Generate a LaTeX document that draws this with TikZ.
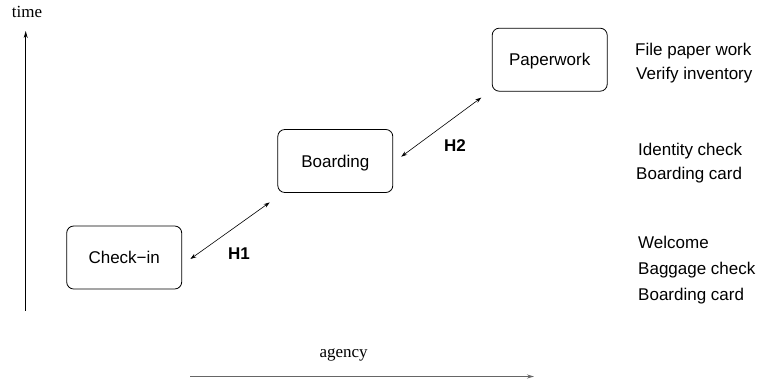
\documentclass[tikz,border=0pt]{standalone}
\usepackage{fontspec}
\setmainfont{Liberation Serif}
\setsansfont{Liberation Sans}
\usetikzlibrary{arrows.meta}
\begin{document}
\begin{tikzpicture}[x=1pt,y=-1pt,
  box/.style={draw,line width=0.8pt,rounded corners=7pt,minimum width=115pt,minimum height=63pt,
    inner sep=0pt,text height=12.2pt,text depth=0pt,font=\sffamily\fontsize{17}{20}\selectfont},
  txt/.style={anchor=base west,inner sep=0pt,font=\sffamily\fontsize{17}{20}\selectfont},
  ser/.style={anchor=base west,inner sep=0pt,font=\rmfamily\fontsize{17}{20}\selectfont},
  lbl/.style={anchor=base west,inner sep=0pt,font=\sffamily\bfseries\fontsize{17}{20}\selectfont},
  harrow/.style={line width=0.6pt,{Stealth[length=6pt,width=4pt]}-{Stealth[length=6pt,width=4pt]}},
  axis/.style={-{Stealth[length=7pt,width=4pt]}}]
\useasboundingbox (0,0) rectangle (759,382);
% axes
\coordinate (t0) at (25.7,310.7);
\coordinate (t1) at (25.7,31);
\draw[axis,line width=0.9pt] (t0) -- (t1);
\node[ser] (time) at (11.7,18) {time};
\coordinate (a0) at (190,376.5);
\coordinate (a1) at (534,376.5);
\draw[axis,line width=1.3pt,draw=black!60,fill=black] (a0) -- (a1);
\node[ser] (agency) at (319.3,357.5) {agency};
% boxes
\node[box] (ci) at (124.2,257.5) {Check\textminus in};
\node[box] (bo) at (335.3,161) {Boarding};
\node[box] (pw) at (549.7,59.7) {Paperwork};
% handovers
\draw[harrow] ([xshift=8.3pt,yshift=-1.5pt]ci.east) -- ([xshift=-7.7pt,yshift=-9.5pt]bo.south west);
\draw[harrow] ([xshift=8pt,yshift=4.3pt]bo.east) -- ([xshift=-10.5pt,yshift=-6pt]pw.south west);
\node[lbl] (h1) at (228,259.3) {H1};
\node[lbl] (h2) at (444,151) {H2};
% tasks
\node[txt] (t1a) at (635,55.5) {File paper work};
\node[txt] (t1b) at (636,80) {Verify inventory};
\node[txt] (t2a) at (638,155.7) {Identity check};
\node[txt] (t2b) at (636,179) {Boarding card};
\node[txt] (t3a) at (638,248.5) {Welcome};
\node[txt] (t3b) at (638,274.5) {Baggage check};
\node[txt] (t3c) at (638,300) {Boarding card};
\end{tikzpicture}
\end{document}
